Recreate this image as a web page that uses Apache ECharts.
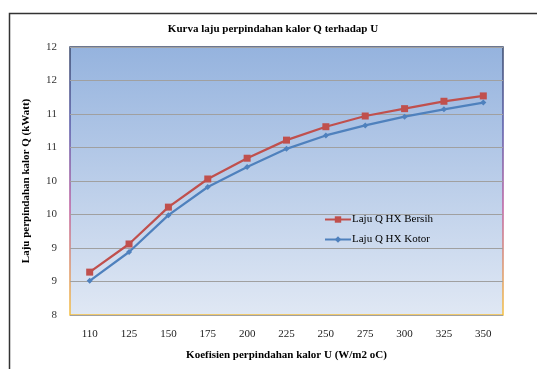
<!DOCTYPE html>
<html><head><meta charset="utf-8">
<script src="https://cdn.jsdelivr.net/npm/echarts@6/dist/echarts.min.js"></script>
<style>html,body{margin:0;padding:0;background:#fff}#c{width:537px;height:369px}</style>
</head><body><div id="c"></div>
<script>
const categories = ['110','125','150','175','200','225','250','275','300','325','350'];
const bersih = [8.64, 9.06, 9.61, 10.03, 10.34, 10.61, 10.81, 10.97, 11.08, 11.19, 11.27];
const kotor  = [8.51, 8.94, 9.49, 9.91, 10.21, 10.48, 10.68, 10.83, 10.96, 11.07, 11.17];
const yTickLabels = ['8','9','9','10','10','11','11','12','12'];

const FONT = '"Liberation Serif", "DejaVu Serif", serif';
const chart = echarts.init(document.getElementById('c'));
chart.setOption({
  animation: false,
  backgroundColor: '#ffffff',
  title: {
    text: 'Kurva laju perpindahan kalor Q terhadap U',
    left: 268, top: 19, textAlign: 'center',
    textStyle: {fontFamily: FONT, fontSize: 11, fontWeight: 'bold', color: '#000'}
  },
  graphic: [{
    type: 'rect', left: 7, top: 11, z: -1,
    shape: {width: 600, height: 400},
    style: {fill: 'none', stroke: '#333', lineWidth: 1.5}
  }],
  legend: {
    orient: 'vertical', left: 324, top: 214, itemGap: 9, padding: 0,
    itemWidth: 26, itemHeight: 8,
    textStyle: {fontFamily: FONT, fontSize: 11, color: '#000', padding: [0,0,0,-4]},
    data: ['Laju Q HX Bersih', 'Laju Q HX Kotor']
  },
  grid: {
    left: 70, right: 34, top: 47, bottom: 54,
    show: true,
    backgroundColor: new echarts.graphic.LinearGradient(0,0,0,1,[
      {offset: 0, color: '#95B3DE'}, {offset: 1, color: '#E0E8F4'}]),
    borderWidth: 1.5,
    borderColor: new echarts.graphic.LinearGradient(0,0,0,1,[
      {offset: 0, color: '#3B4A6B'}, {offset: 0.3, color: '#5A5AA8'},
      {offset: 0.6, color: '#C060A0'}, {offset: 1, color: '#F5C040'}])
  },
  xAxis: {
    type: 'category', data: categories, boundaryGap: true,
    name: 'Koefisien perpindahan kalor U (W/m2 oC)',
    nameLocation: 'middle', nameGap: 35,
    nameTextStyle: {fontFamily: FONT, fontSize: 11, fontWeight: 'bold', color: '#000'},
    axisLine: {show: false}, axisTick: {show: false},
    axisLabel: {fontFamily: FONT, fontSize: 11, color: '#222', margin: 14}
  },
  yAxis: {
    type: 'value', min: 8, max: 12, interval: 0.5,
    name: 'Laju perpindahan kalor Q (kWatt)',
    nameLocation: 'middle', nameGap: 38, nameRotate: 90,
    nameTextStyle: {fontFamily: FONT, fontSize: 11, fontWeight: 'bold', color: '#000'},
    axisLine: {show: false}, axisTick: {show: false},
    axisLabel: {fontFamily: FONT, fontSize: 11, color: '#333', margin: 13,
      formatter: (v, i) => yTickLabels[i]},
    splitLine: {lineStyle: {color: '#A0A0A0', width: 1}}
  },
  series: [{
    name: 'Laju Q HX Bersih', type: 'line', data: bersih,
    symbol: 'rect', symbolSize: 7,
    lineStyle: {color: '#C0504D', width: 2.25},
    itemStyle: {color: '#C0504D'}
  }, {
    name: 'Laju Q HX Kotor', type: 'line', data: kotor,
    symbol: 'diamond', symbolSize: 6,
    lineStyle: {color: '#4F81BD', width: 2.25},
    itemStyle: {color: '#4F81BD'}
  }]
});
</script></body></html>
